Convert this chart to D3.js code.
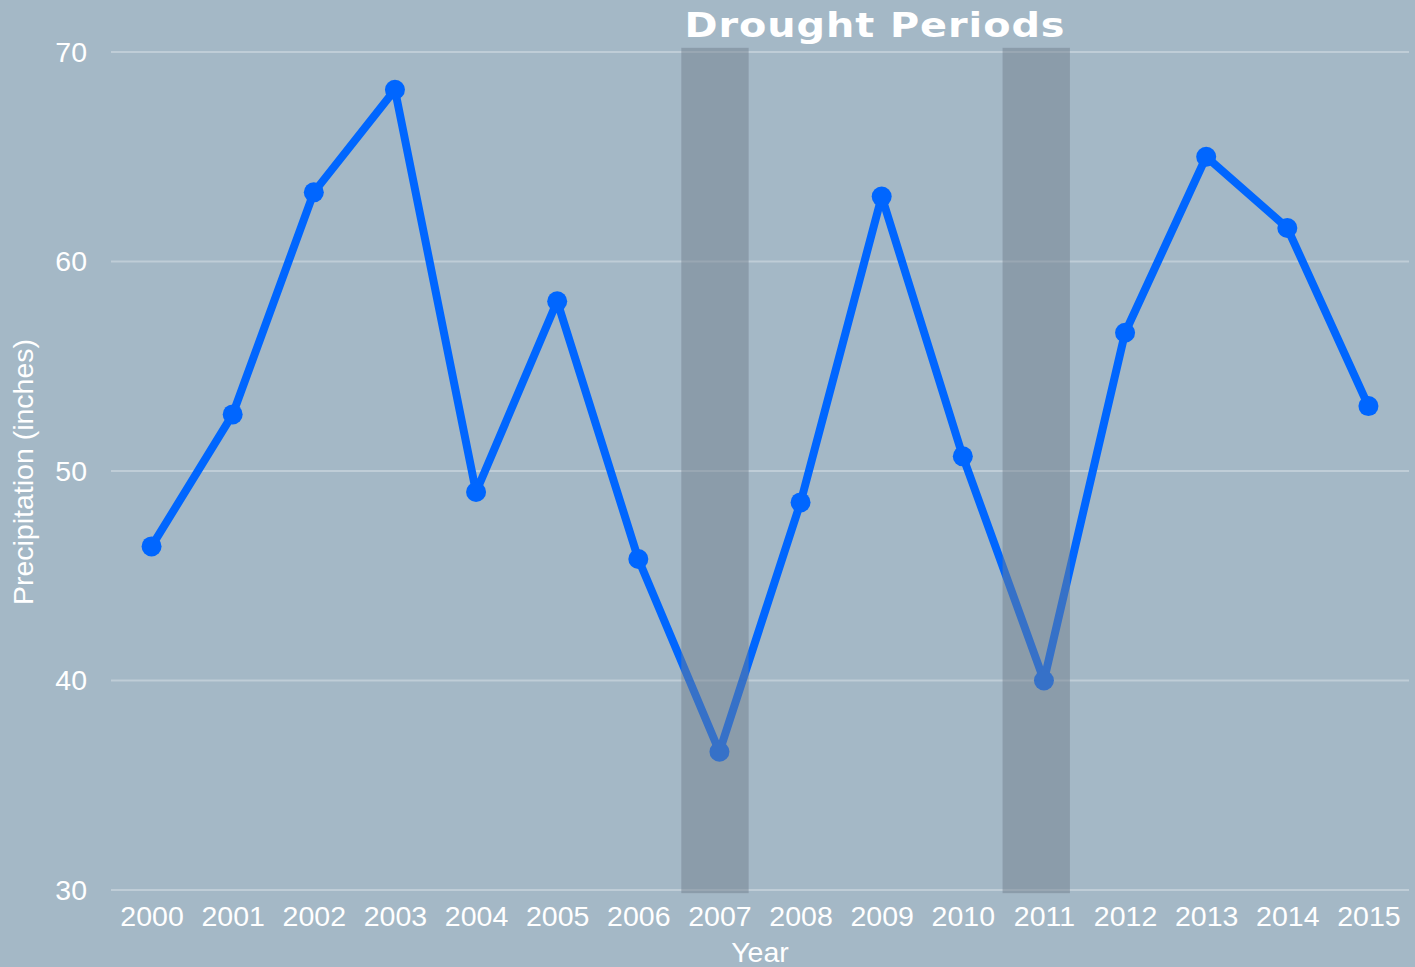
<!DOCTYPE html>
<html>
<head>
<meta charset="utf-8">
<script src="https://cdn.jsdelivr.net/npm/d3@7"></script>
<style>
  html, body { margin: 0; padding: 0; background: #a4b8c6; }
  svg { display: block; }
</style>
</head>
<body>
<div id="chart"></div>
<script>
// data
var years = [2000, 2001, 2002, 2003, 2004, 2005, 2006, 2007, 2008, 2009, 2010, 2011, 2012, 2013, 2014, 2015];
var precip = [46.4, 52.7, 63.3, 68.2, 49.0, 58.1, 45.8, 36.6, 48.5, 63.1, 50.7, 40.0, 56.6, 65.0, 61.6, 53.1];
var yTicks = [30, 40, 50, 60, 70];
// drought spans in (decimal) years
var droughtStart = [2006.53, 2010.49];
var droughtEnd = [2007.36, 2011.32];
var droughtLow = 29.85, droughtHigh = 70.2;

function init() {
  var width = 1415, height = 967;
  var svg = d3.select("#chart").append("svg")
    .attr("width", width)
    .attr("height", height);

  svg.append("rect")
    .attr("width", width).attr("height", height)
    .attr("fill", "#a4b8c6");

  var x = d3.scaleLinear().domain([1999.5, 2015.5]).range([111, 1409]);
  var y = d3.scaleLinear().domain([30, 70]).range([890, 52]);

  // grid lines
  svg.append("g")
    .selectAll("line")
    .data(yTicks)
    .enter()
    .append("line")
    .attr("x1", x(1999.5))
    .attr("x2", x(2015.5))
    .attr("y1", function(d) { return y(d); })
    .attr("y2", function(d) { return y(d); })
    .attr("stroke", "#ffffff")
    .attr("stroke-opacity", 0.3)
    .attr("stroke-width", 2);

  // y axis
  var yAxis = svg.append("g")
    .attr("transform", "translate(" + x(1999.5) + ",0)")
    .call(d3.axisLeft(y).tickValues(yTicks).tickSize(0).tickPadding(24));
  yAxis.select(".domain").remove();
  yAxis.selectAll("text")
    .attr("fill", "#ffffff")
    .style("font-family", "'Liberation Sans', Arial, sans-serif")
    .style("font-size", "28.5px");

  // x axis
  var xAxis = svg.append("g")
    .attr("transform", "translate(0," + y(30) + ")")
    .call(d3.axisBottom(x).tickValues(years).tickFormat(d3.format("d")).tickSize(0).tickPadding(16));
  xAxis.select(".domain").remove();
  xAxis.selectAll("text")
    .attr("fill", "#ffffff")
    .style("font-family", "'Liberation Sans', Arial, sans-serif")
    .style("font-size", "28.5px");

  // line
  var data = years.map(function(d, i) { return { year: d, value: precip[i] }; });
  var line = d3.line()
    .x(function(d) { return x(d.year); })
    .y(function(d) { return y(d.value); });

  svg.append("path")
    .datum(data)
    .attr("d", line)
    .attr("fill", "none")
    .attr("stroke", "#0066ff")
    .attr("stroke-width", 8)
    .attr("stroke-linejoin", "round");

  svg.append("g")
    .selectAll("circle")
    .data(data)
    .enter()
    .append("circle")
    .attr("cx", function(d) { return x(d.year); })
    .attr("cy", function(d) { return y(d.value); })
    .attr("r", 10)
    .attr("fill", "#0066ff");

  // drought shading on top
  svg.append("g")
    .selectAll("rect")
    .data(droughtStart)
    .enter()
    .append("rect")
    .attr("x", function(d) { return x(d); })
    .attr("width", function(d, i) { return x(droughtEnd[i]) - x(d); })
    .attr("y", y(droughtHigh))
    .attr("height", y(droughtLow) - y(droughtHigh))
    .attr("fill", "#717e8b")
    .attr("opacity", 0.48);

  // title (stretched to look like a wide display face)
  svg.append("text")
    .attr("transform", "translate(875,37) scale(1.17,1)")
    .attr("text-anchor", "middle")
    .attr("fill", "#ffffff")
    .style("font-family", "'DejaVu Sans', sans-serif")
    .style("font-weight", "bold")
    .style("font-size", "34px")
    .style("letter-spacing", "0.8px")
    .text("Drought Periods");

  // axis labels
  svg.append("text")
    .attr("x", 760)
    .attr("y", 962)
    .attr("text-anchor", "middle")
    .attr("fill", "#ffffff")
    .style("font-family", "'Liberation Sans', Arial, sans-serif")
    .style("font-size", "28.5px")
    .text("Year");

  svg.append("text")
    .attr("transform", "translate(33," + 472 + ") rotate(-90)")
    .attr("text-anchor", "middle")
    .attr("fill", "#ffffff")
    .style("font-family", "'Liberation Sans', Arial, sans-serif")
    .style("font-size", "28.5px")
    .text("Precipitation (inches)");
}
window.onload = init;
</script>
</body>
</html>
